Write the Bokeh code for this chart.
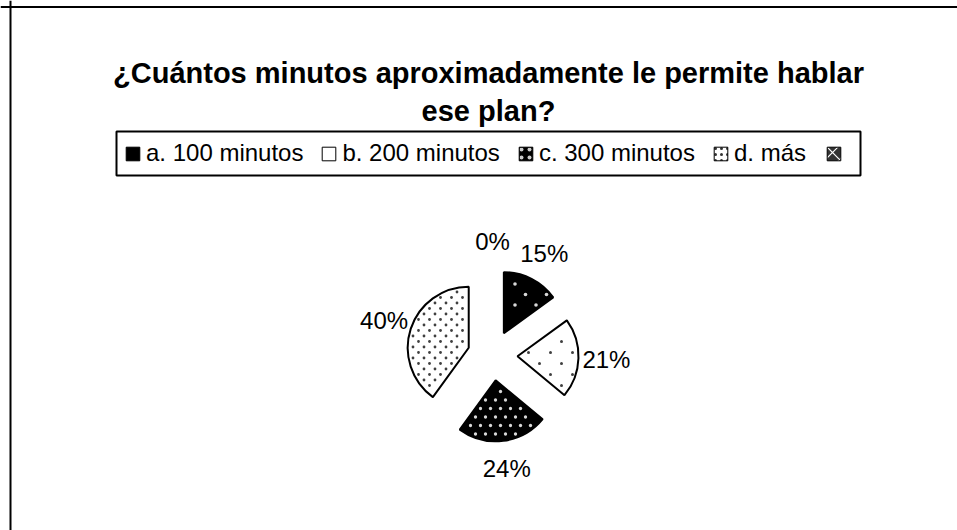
import math
from bokeh.plotting import figure
from bokeh.models import (ColumnDataSource, Range1d, Legend, LegendItem, BoxAnnotation, Label,
                          Span)
from bokeh.embed import file_html
from bokeh.resources import INLINE
from bokeh.core.properties import value

# ---- data ----
title_lines = ["¿Cuántos minutos aproximadamente le permite hablar", "ese plan?"]
categories = ["a. 100 minutos", "b. 200 minutos", "c. 300 minutos", "d. más", ""]
percent = [15, 21, 24, 40, 0]

# ---- styles ----
fills = ["black", "white", "black", "white", "#333333"]
dot_dx = [21, 22, 10, 11, 10]          # dot pattern spacing within a row (px)
dot_dy = [10.5, 11, 8.5, 5.5, 5]       # row spacing (px)
dot_colors = ["#d8d8d8", "#404040", "#d8d8d8", "#404040", "white"]
dot_sizes = [3.6, 3.0, 3.3, 2.8, 2]
line_alphas = [1, 1, 1, 1, 0]
# legend key styles
leg_hatch = ["blank", "blank", "dot", "dot", "diagonal_cross"]
leg_hcolor = ["white", "black", "#cccccc", "#333333", "white"]
leg_hscale = [10, 10, 8, 6, 14]

W, H = 957, 530
FONT = "Liberation Sans"

CX, CY = 492, H - 355     # pie centre in data (= screen px) units
R = 61
OFF = 25
LAB_R = 114

p = figure(width=W, height=H, output_backend="svg", toolbar_location=None,
           x_range=Range1d(0, W), y_range=Range1d(0, H),
           x_axis_type=None, y_axis_type=None, min_border=0)
p.xgrid.visible = False
p.ygrid.visible = False
p.outline_line_color = None
p.background_fill_color = "white"

total = float(sum(percent))
starts, ends, xs, ys, lx, ly, radii = [], [], [], [], [], [], []
dots_x, dots_y, dots_c, dots_s = [], [], [], []
cum = 0.0
for k, v in enumerate(percent):
    c0 = cum / total
    cum += v
    c1 = cum / total
    t0, t1 = 2 * math.pi * c0, 2 * math.pi * c1   # clockwise from 12 o'clock
    starts.append(math.pi / 2 - t0)
    ends.append(math.pi / 2 - t1)
    th = (t0 + t1) / 2
    ax, ay = CX + OFF * math.sin(th), CY + OFF * math.cos(th)
    xs.append(ax)
    ys.append(ay)
    lx.append(CX + LAB_R * math.sin(th))
    ly.append(CY + LAB_R * math.cos(th))
    radii.append(R if v > 0 else 0)
    if v <= 0:
        continue
    # pattern dots inside this exploded slice (screen-anchored lattice)
    dx, dy = dot_dx[k], dot_dy[k]
    j0, j1 = int((H - ay - R) // dy) - 1, int((H - ay + R) // dy) + 2
    for j in range(j0, j1):
        sy = j * dy
        off = (j % 2) * dx / 2
        i0, i1 = int((ax - R) // dx) - 1, int((ax + R) // dx) + 2
        for i in range(i0, i1):
            sx = i * dx + off
            ddx, ddy = sx - ax, (H - sy) - ay
            dist = math.hypot(ddx, ddy)
            if dist > R - 3:
                continue
            ang = math.atan2(ddx, ddy) % (2 * math.pi)
            if not (t0 <= ang <= t1):
                continue
            if abs(ddx * math.cos(t0) - ddy * math.sin(t0)) < 3:
                continue
            if abs(ddx * math.cos(t1) - ddy * math.sin(t1)) < 3:
                continue
            dots_x.append(sx)
            dots_y.append(H - sy)
            dots_c.append(dot_colors[k])
            dots_s.append(dot_sizes[k])

src = ColumnDataSource(dict(x=xs, y=ys, r=radii, start=starts, end=ends, fill=fills,
                            lalpha=line_alphas))
p.wedge(x="x", y="y", radius="r", start_angle="start", end_angle="end",
        direction="clock", fill_color="fill", line_color="black", line_width=2,
        line_alpha="lalpha", source=src)

dot_src = ColumnDataSource(dict(x=dots_x, y=dots_y, c=dots_c, s=dots_s))
p.scatter(x="x", y="y", size="s", marker="circle", fill_color="c", line_color=None,
          source=dot_src)

lab_src = ColumnDataSource(dict(x=lx, y=ly, t=[f"{v}%" for v in percent]))
p.text(x="x", y="y", text="t", source=lab_src, text_align="center",
       text_baseline="middle", text_font=value(FONT), text_font_size="24px",
       text_color="black")

# legend key renderer (kept outside the visible frame; only its keys are shown)
key_src = ColumnDataSource(dict(x=[-1000] * len(percent), y=[-1000] * len(percent),
                                fill=fills, hatch=leg_hatch, hcolor=leg_hcolor,
                                hscale=leg_hscale))
key_r = p.wedge(x="x", y="y", radius=1, start_angle=0, end_angle=1, fill_color="fill",
                hatch_pattern="hatch", hatch_color="hcolor", hatch_scale="hscale",
                hatch_weight=1.2, line_color="black", line_width=1, source=key_src)

# outer chart border (top and left visible in window)
p.add_layout(Span(location=10, dimension="height", line_color="black", line_width=2))
p.add_layout(Span(location=H - 6.5, dimension="width", line_color="black", line_width=2))

# legend frame
p.add_layout(BoxAnnotation(left=116, right=860, top=H - 131, bottom=H - 175,
                           fill_alpha=0, line_color="black", line_alpha=1, line_width=2))

# title
for i, t in enumerate(title_lines):
    p.add_layout(Label(x=488, y=H - (72 + 38 * i), text=t, text_align="center",
                       text_baseline="alphabetic", text_font=FONT, text_font_style="bold",
                       text_font_size="29px", text_color="black"))

def mk_legend(idx, loc, spacing):
    items = [LegendItem(label=value(categories[i]), renderers=[key_r], index=i) for i in idx]
    return Legend(items=items, orientation="horizontal", location=loc,
                  glyph_width=17, glyph_height=17, label_standoff=5, spacing=spacing,
                  label_height=30, padding=0, margin=0, border_line_color=None,
                  background_fill_alpha=0, label_text_font=FONT,
                  label_text_font_size="24px", label_text_color="black")

p.add_layout(mk_legend([0, 1, 2, 3], (124, H - 168), 17))
p.add_layout(mk_legend([4], (825, H - 168), 0))

open("out.html", "w").write(file_html(p, INLINE))
